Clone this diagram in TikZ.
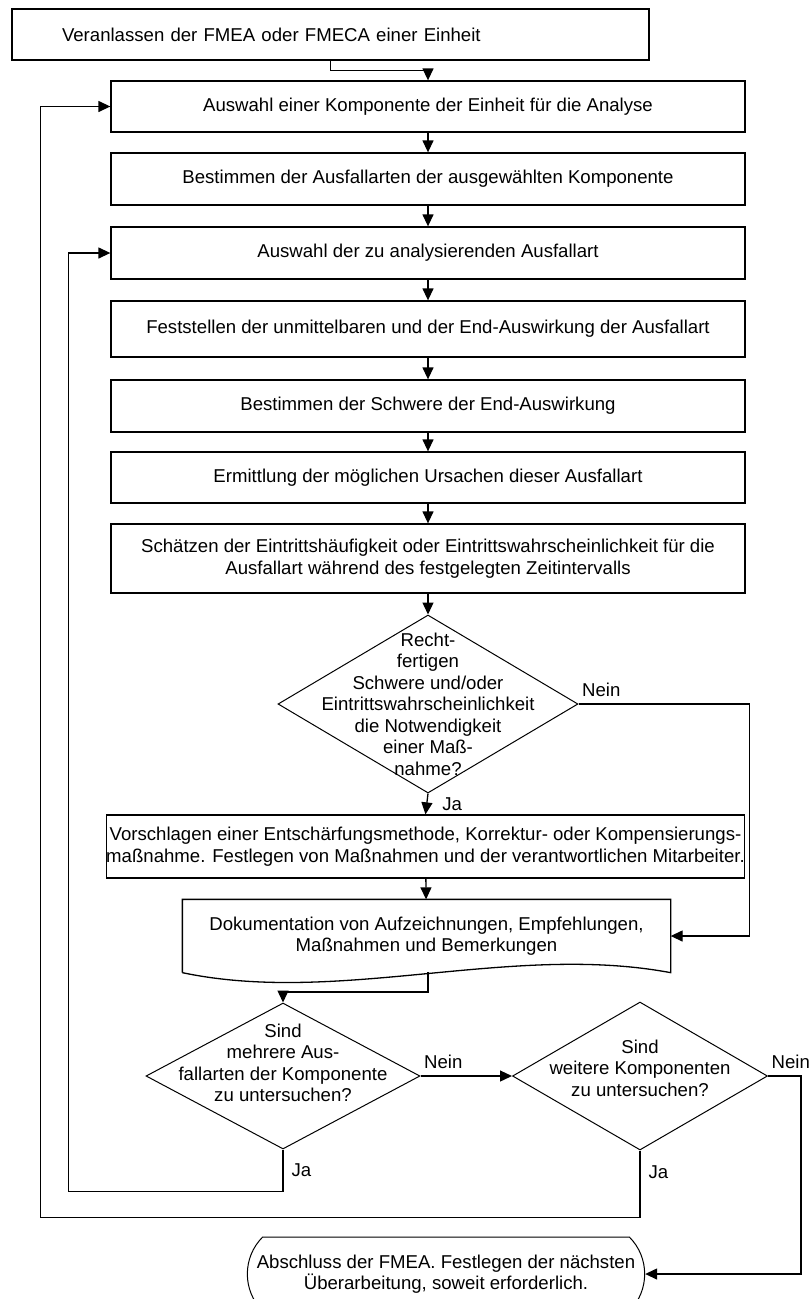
\documentclass[tikz,border=0pt]{standalone}
\usepackage{fontspec}
\setmainfont{Liberation Sans}
\usetikzlibrary{shapes.geometric, shapes.misc, positioning, arrows.meta, calc}

\begin{document}
\begin{tikzpicture}[x=1pt, y=-1pt, >={Triangle[length=12pt, width=11pt]}, line width=1.3pt, font=\fontsize{18.6}{21.5}\selectfont]
\tikzset{
    process/.style={draw, rectangle, minimum width=634pt, minimum height=52pt, align=center, inner sep=2pt},
    decision/.style={draw, diamond, inner sep=0pt, line width=1pt},
    question/.style={align=center, inner sep=0pt},
    terminal/.style={draw, rounded rectangle, rounded rectangle arc length=90, minimum width=404pt, minimum height=74pt, align=center, line width=1pt},
    tag/.style={inner sep=3pt}
}
\useasboundingbox (0,0) rectangle (810,1299);
\node[process, minimum width=637pt, minimum height=51pt, text width=537pt, inner xsep=50pt, align=left] (Start) at (330.5, 34.5) {Veranlassen der FMEA oder FMECA einer Einheit};
\node[process, minimum height=51pt] (Comp) at (428, 106.5) {Auswahl einer Komponente der Einheit für die Analyse};
\node[process] (Modes) at (428, 179) {Bestimmen der Ausfallarten der ausgewählten Komponente};
\node[process] (Mode) at (428, 253) {Auswahl der zu analysierenden Ausfallart};
\node[process, minimum height=56pt] (Effect) at (428, 329) {Feststellen der unmittelbaren und der End-Auswirkung der Ausfallart};
\node[process] (Severity) at (428, 406) {Bestimmen der Schwere der End-Auswirkung};
\node[process, minimum height=51pt] (Cause) at (428, 477.5) {Ermittlung der möglichen Ursachen dieser Ausfallart};
\node[process, minimum height=69pt] (Freq) at (428, 558.5) {Schätzen der Eintrittshäufigkeit oder Eintrittswahrscheinlichkeit für die\\Ausfallart während des festgelegten Zeitintervalls};
\node[decision, minimum width=300pt, minimum height=178pt] (Need) at (428, 704) {};
\node[question] (NeedText) at (428, 704) {Recht-\\fertigen\\Schwere und/oder\\Eintrittswahrscheinlichkeit\\die Notwendigkeit\\einer Maß-\\nahme?};
\node[process, minimum width=637pt, minimum height=63pt, inner xsep=0pt] (Action) at (425.5, 846.5) {Vorschlagen einer Entschärfungsmethode, Korrektur- oder Kompensierungs-\\maßnahme. Festlegen von Maßnahmen und der verantwortlichen Mitarbeiter.};
\node[minimum width=487pt, minimum height=72pt, align=center] (Doc) at (426.5, 936) {Dokumentation von Aufzeichnungen, Empfehlungen,\\Maßnahmen und Bemerkungen};
\draw (Doc.south west) -- (Doc.north west) -- (Doc.north east) -- (Doc.south east) .. controls +(-160,-30) and +(157,33) .. (Doc.south west);
\coordinate (DocOut) at (428, 972);
\node[decision, minimum width=274pt, minimum height=146pt] (More) at (283, 1076) {};
\node[question] (MoreText) at (283, 1063) {Sind\\mehrere Aus-\\fallarten der Komponente\\zu untersuchen?};
\node[decision, minimum width=255pt, minimum height=148pt] (Next) at (640, 1076) {};
\node[question] (NextText) at (640, 1068) {Sind\\weitere Komponenten\\zu untersuchen?};
\node[terminal] (End) at (446, 1274) {Abschluss der FMEA. Festlegen der nächsten\\Überarbeitung, soweit erforderlich.};
\draw[->] (Start.south) -- ++(0,10) -| (Comp.north);
\draw[->] (Comp) -- (Modes); \draw[->] (Modes) -- (Mode); \draw[->] (Mode) -- (Effect);
\draw[->] (Effect) -- (Severity); \draw[->] (Severity) -- (Cause); \draw[->] (Cause) -- (Freq);
\draw[->] (Freq) -- (Need.north);
\draw[->] (Need.south) -- (Action.north) node[tag, midway, right, xshift=12pt] {Ja};
\draw[->] (Need.east) -- ++(171,0) node[tag, at start, above right, yshift=4pt] {Nein} |- (Doc.east);
\draw[->] (Action) -- (Doc);
\draw[->] (DocOut) -- ++(0,20) -| (More.north);
\draw[->] (More) -- (Next) node[tag, at start, above right, yshift=4pt] {Nein};
\draw[->] (Next.east) -- ++(33,0) node[tag, at start, above right, yshift=4pt] {Nein} |- (End.east);
\draw[->] (More.south) -- ++(0,42) node[tag, midway, right, xshift=5pt] {Ja} -| ([xshift=-42pt]Mode.west) -- (Mode.west);
\draw[->] (Next.south) -- ++(0,67) node[tag, pos=0.33, right, xshift=5pt] {Ja} -| ([xshift=-70pt]Comp.west) -- (Comp.west);
\end{tikzpicture}
\end{document}
